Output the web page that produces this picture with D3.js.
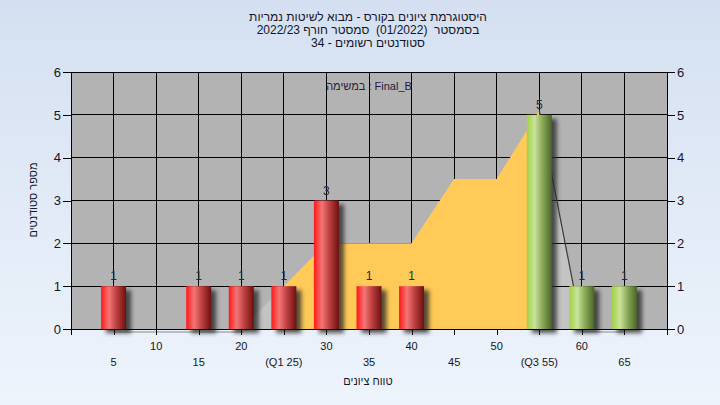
<!DOCTYPE html>
<html>
<head>
<meta charset="utf-8">
<script src="https://cdn.jsdelivr.net/npm/d3@7"></script>
<style>
  html, body { margin: 0; padding: 0; }
  body { width: 720px; height: 405px; overflow: hidden; }
  text { font-family: "Liberation Sans", Arial, "DejaVu Sans", sans-serif; white-space: pre; }
</style>
</head>
<body>
<svg id="chart" width="720" height="405"></svg>
<script>
// ---------- data ----------
const titleLines = [
  "היסטוגרמת ציונים בקורס - מבוא לשיטות נמריות",
  "בסמסטר  (01/2022)  סמסטר חורף 2022/23",
  "סטודנטים רשומים - 34"
];
const legendText = "במשימה : Final_B";
const xTitle = "טווח ציונים";
const yTitle = "מספר סטודנטים";

const barGrades = [5, 15, 20, 25, 30, 35, 40, 55, 60, 65];
const barCounts = [1, 1, 1, 1, 3, 1, 1, 5, 1, 1];
const barGroup  = ["low", "low", "low", "low", "low", "low", "low", "high", "high", "high"];

const curveGrades = [5, 10, 15, 20, 25, 30, 35, 40, 45, 50, 55, 60, 65];
const curveValues = [0, 0, 0, 0, 1, 2, 2, 2, 3.5, 3.5, 5.1, 0, 0];
const q1 = 25, q3 = 55;

const yTicks = [0, 1, 2, 3, 4, 5, 6];
const xGridTicks = [0, 5, 10, 15, 20, 25, 30, 35, 40, 45, 50, 55, 60, 65, 70];
const xLabelRow1 = [10, 20, 30, 40, 50, 60];
const xLabelRow2Values = [5, 15, 25, 35, 45, 55, 65];
const xLabelRow2Text = ["5", "15", "(Q1 25)", "35", "45", "(Q3 55)", "65"];

// ---------- setup ----------
const svg = d3.select("#chart");
const W = 720, H = 405;
const plot = { left: 71, right: 667, top: 72, bottom: 329 };
const x = d3.scaleLinear().domain([0, 70]).range([plot.left, plot.right]);
const y = d3.scaleLinear().domain([0, 6]).range([plot.bottom, plot.top]);
const barW = 25;
const textColor = "#15152a";

const defs = svg.append("defs");
const bg = defs.append("linearGradient").attr("id", "bg").attr("x1", 0).attr("y1", 0).attr("x2", 0).attr("y2", 1);
bg.append("stop").attr("offset", "0%").attr("stop-color", "#d4e0f1");
bg.append("stop").attr("offset", "100%").attr("stop-color", "#eef4fc");

const redG = defs.append("linearGradient").attr("id", "gLow").attr("x1", 0).attr("y1", 0).attr("x2", 1).attr("y2", 0);
[["0%", "#ff1818"], ["12%", "#fb3c3c"], ["32%", "#f27676"], ["60%", "#c24242"], ["100%", "#6c1010"]]
  .forEach(([o, c]) => redG.append("stop").attr("offset", o).attr("stop-color", c));
const greenG = defs.append("linearGradient").attr("id", "gHigh").attr("x1", 0).attr("y1", 0).attr("x2", 1).attr("y2", 0);
[["0%", "#a2d04a"], ["12%", "#b0d860"], ["32%", "#c9e39c"], ["60%", "#8fae5c"], ["100%", "#4a6526"]]
  .forEach(([o, c]) => greenG.append("stop").attr("offset", o).attr("stop-color", c));

const shadowF = defs.append("filter").attr("id", "shadow").attr("x", "-50%").attr("y", "-50%").attr("width", "200%").attr("height", "200%");
shadowF.append("feGaussianBlur").attr("stdDeviation", 2);

// background
svg.append("rect").attr("width", W).attr("height", H).attr("fill", "url(#bg)");

// plot background
svg.append("rect")
  .attr("x", plot.left).attr("y", plot.top)
  .attr("width", plot.right - plot.left).attr("height", plot.bottom - plot.top)
  .attr("fill", "#b3b3b3");

const curve = curveGrades.map((g, i) => ({ g, v: curveValues[i] }));

// light gray curve area (under grid)
const area = d3.area().x(d => x(d.g)).y0(y(0)).y1(d => y(d.v));
svg.append("path").datum(curve).attr("d", area).attr("fill", "#c3c3c3");

// gridlines
const grid = svg.append("g").attr("stroke", "#000").attr("stroke-width", 1).attr("shape-rendering", "crispEdges");
yTicks.forEach(t => grid.append("line").attr("x1", plot.left).attr("x2", plot.right).attr("y1", y(t)).attr("y2", y(t)));
xGridTicks.forEach(t => grid.append("line").attr("x1", x(t)).attr("x2", x(t)).attr("y1", plot.top).attr("y2", plot.bottom));

// orange interquartile area (over grid)
const iqr = curve.filter(d => d.g >= q1 && d.g <= q3);
svg.append("path").datum(iqr).attr("d", area).attr("fill", "#ffca58");

// dark descending line after Q3
const tail = curve.filter(d => d.g >= q3 && d.g <= q3 + 5);
svg.append("path").datum(tail)
  .attr("d", d3.line().x(d => x(d.g)).y(d => y(d.v)))
  .attr("fill", "none").attr("stroke", "#3a3a3a").attr("stroke-width", 1.2);

// baseline light line segments (curve at zero)
svg.append("line").attr("x1", x(5)).attr("x2", x(20.2)).attr("y1", plot.bottom + 3).attr("y2", plot.bottom + 3)
  .attr("stroke", "#8a8a8a").attr("stroke-width", 1);
svg.append("line").attr("x1", x(60)).attr("x2", x(65)).attr("y1", plot.bottom + 3).attr("y2", plot.bottom + 3)
  .attr("stroke", "#8a8a8a").attr("stroke-width", 1);

const bars = barGrades.map((g, i) => ({ g, c: barCounts[i], grp: barGroup[i] }));

// bar shadows
svg.append("g").selectAll("rect").data(bars).join("rect")
  .attr("x", d => x(d.g) - barW / 2 + 5)
  .attr("y", d => y(d.c) + 4)
  .attr("width", barW)
  .attr("height", d => y(0) - y(d.c))
  .attr("fill", "#2a2a2a").attr("opacity", 0.8)
  .attr("filter", "url(#shadow)");

// bars
svg.append("g").selectAll("rect").data(bars).join("rect")
  .attr("x", d => x(d.g) - barW / 2)
  .attr("y", d => y(d.c))
  .attr("width", barW)
  .attr("height", d => y(0) - y(d.c))
  .attr("fill", d => d.grp === "low" ? "url(#gLow)" : "url(#gHigh)");

// value labels
svg.append("g").selectAll("text").data(bars).join("text")
  .attr("x", d => x(d.g))
  .attr("y", d => y(d.c) - 6)
  .attr("text-anchor", "middle")
  .attr("font-size", 12)
  .attr("fill", "#222a33")
  .text(d => d.c);

// axes
const axL = svg.append("g").attr("transform", `translate(${plot.left},0)`)
  .call(d3.axisLeft(y).tickValues(yTicks).tickSize(8).tickPadding(2).tickFormat(d3.format("d")));
const axR = svg.append("g").attr("transform", `translate(${plot.right},0)`)
  .call(d3.axisRight(y).tickValues(yTicks).tickSize(8).tickPadding(2).tickFormat(d3.format("d")));
const axB = svg.append("g").attr("transform", `translate(0,${plot.bottom})`)
  .call(d3.axisBottom(x).tickValues(xGridTicks).tickSize(6).tickFormat(""));
[axL, axR, axB].forEach(a => {
  a.select(".domain").remove();
  a.selectAll("line").attr("stroke", "#000").attr("shape-rendering", "crispEdges");
  a.selectAll("text").attr("font-size", 13).attr("fill", textColor).attr("font-family", '"Liberation Sans", Arial, sans-serif');
});
svg.append("line").attr("x1", plot.left).attr("x2", plot.left).attr("y1", plot.top).attr("y2", plot.bottom + 6)
  .attr("stroke", "#000").attr("shape-rendering", "crispEdges");
svg.append("line").attr("x1", plot.right).attr("x2", plot.right).attr("y1", plot.top).attr("y2", plot.bottom + 6)
  .attr("stroke", "#000").attr("shape-rendering", "crispEdges");
svg.append("line").attr("x1", plot.left).attr("x2", plot.right).attr("y1", plot.bottom).attr("y2", plot.bottom)
  .attr("stroke", "#000").attr("shape-rendering", "crispEdges");

// x labels (two rows)
svg.append("g").selectAll("text").data(xLabelRow1).join("text")
  .attr("x", d => x(d)).attr("y", 350)
  .attr("text-anchor", "middle").attr("font-size", 11).attr("fill", textColor)
  .text(d => d);
svg.append("g").selectAll("text").data(xLabelRow2Values).join("text")
  .attr("x", d => x(d)).attr("y", 366)
  .attr("text-anchor", "middle").attr("font-size", 11).attr("fill", textColor)
  .text((d, i) => xLabelRow2Text[i]);

// titles
svg.append("g").selectAll("text").data(titleLines).join("text")
  .attr("x", 368).attr("y", (d, i) => 21 + i * 13)
  .attr("text-anchor", "middle").attr("font-size", 12).attr("fill", textColor)
  .text(d => d);

svg.append("text").attr("x", 369).attr("y", 90).attr("text-anchor", "middle")
  .attr("font-size", 11).attr("fill", "#2a1a40").text(legendText);

svg.append("text").attr("x", 368).attr("y", 385).attr("text-anchor", "middle")
  .attr("font-size", 11).attr("fill", textColor).text(xTitle);

svg.append("text").attr("transform", "translate(37,200) rotate(-90)").attr("text-anchor", "middle")
  .attr("font-size", 11).attr("fill", textColor).text(yTitle);
</script>
</body>
</html>
